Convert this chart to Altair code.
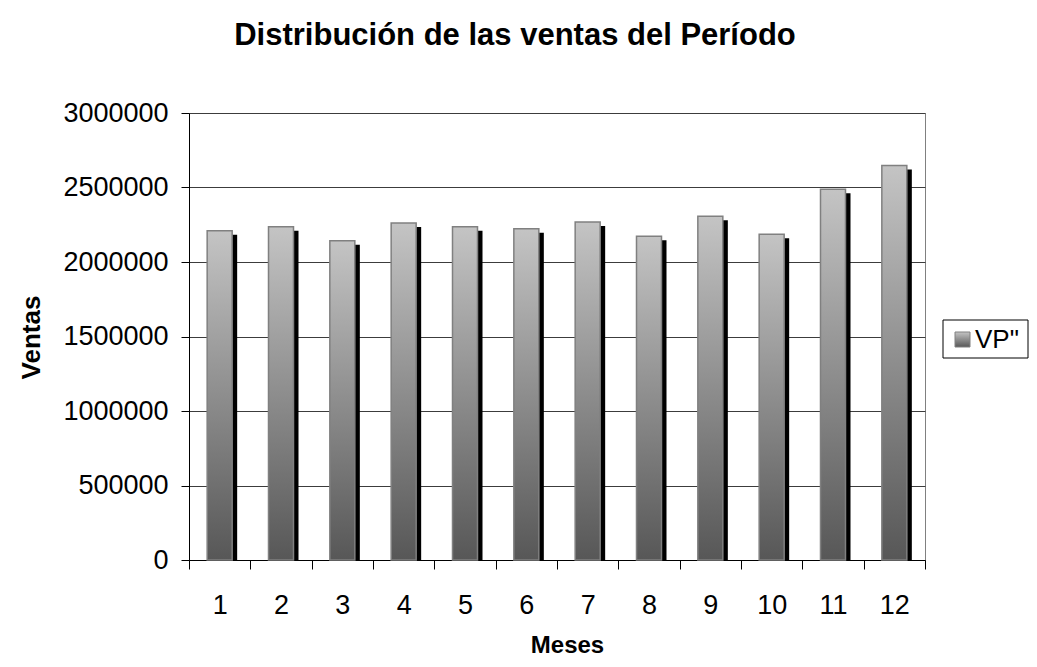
import altair as alt
import pandas as pd

meses = [1, 2, 3, 4, 5, 6, 7, 8, 9, 10, 11, 12]
ventas = [2209000, 2237000, 2143000, 2261000, 2237000, 2223000,
          2269000, 2173000, 2307000, 2187000, 2488000, 2648000]
serie = 'VP"'
titulo = "Distribución de las ventas del Período"
eje_x = "Meses"
eje_y = "Ventas"
y_ticks = [0, 500000, 1000000, 1500000, 2000000, 2500000, 3000000]

df = pd.DataFrame({"mes": meses, "ventas": ventas})
one = pd.DataFrame({"s": [serie], "t": [titulo]})

FONT = "Liberation Sans"
W, H = 736, 447

grad = alt.LinearGradient(
    gradient="linear", x1=0, y1=0, x2=0, y2=1,
    stops=[alt.GradientStop(offset=0, color="#c4c4c4"),
           alt.GradientStop(offset=1, color="#575757")])

xenc = alt.X("mes:O", scale=alt.Scale(paddingInner=0, paddingOuter=0),
             axis=alt.Axis(title=eje_x, labelAngle=0, tickBand="extent",
                           labelFont=FONT, labelFontSize=27, labelColor="black",
                           labelPadding=23, tickSize=9, tickColor="black",
                           domainColor="black", titleFont=FONT, titleFontSize=24,
                           titleFontWeight="bold", titleColor="black",
                           titleX=378, titleY=92, titleBaseline="alphabetic"))
yenc = alt.Y("ventas:Q", scale=alt.Scale(domain=[0, 3000000], nice=False),
             axis=alt.Axis(title=eje_y, values=y_ticks, format="d",
                           labelFont=FONT, labelFontSize=27, labelColor="black",
                           labelPadding=13, tickSize=8, tickColor="black",
                           domainColor="black", grid=True, gridColor="#3c3c3c",
                           gridWidth=1, titleFont=FONT, titleFontSize=26,
                           titleFontWeight="bold", titleColor="black",
                           titleX=-158, titleY=224, titleAngle=-90,
                           titleAlign="center", titleBaseline="middle"))

shadow = alt.Chart(df).mark_bar(color="black", size=25, xOffset=5, yOffset=4,
                                clip=True).encode(x=xenc, y=yenc)
front = alt.Chart(df).mark_bar(color=grad, size=25, stroke="#808080",
                               strokeWidth=1.5).encode(x=xenc, y=yenc)

legend_box = alt.Chart(one).mark_rect(fill="white", stroke="black",
                                      strokeWidth=1).encode(
    x=alt.value(754), x2=alt.value(839), y=alt.value(207), y2=alt.value(245))
legend_sw = alt.Chart(one).mark_rect(color=grad, stroke="#808080",
                                     strokeWidth=1).encode(
    x=alt.value(766), x2=alt.value(781), y=alt.value(219), y2=alt.value(234))
legend_tx = alt.Chart(one).mark_text(font=FONT, fontSize=26, align="left",
                                     baseline="middle", color="black").encode(
    x=alt.value(786), y=alt.value(227), text="s:N")
title_tx = alt.Chart(one).mark_text(font=FONT, fontSize=31, fontWeight="bold",
                                    align="center", baseline="alphabetic",
                                    color="black").encode(
    x=alt.value(326), y=alt.value(-68), text="t:N")

chart = alt.layer(shadow, front, legend_box, legend_sw, legend_tx, title_tx).properties(
    width=W, height=H,
    autosize=alt.AutoSizeParams(type="none"),
    padding={"left": 181, "top": 105, "right": 104, "bottom": 99},
    background="white",
).configure_view(stroke="#808080", strokeWidth=1)

chart.save("out.html", embed_options={"renderer": "svg", "actions": False})
